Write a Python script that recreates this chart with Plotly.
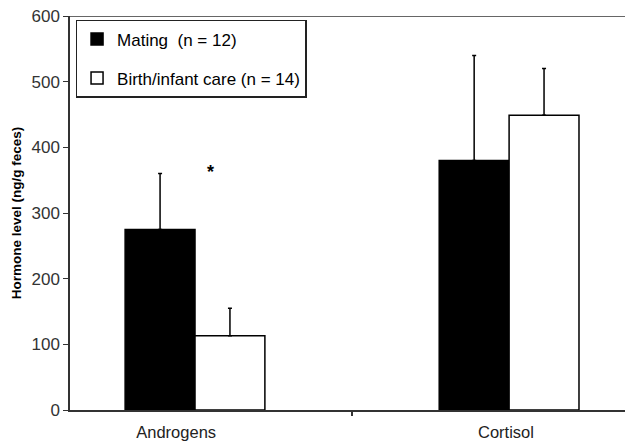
import plotly.graph_objects as go

categories = ["Androgens", "Cortisol"]
mating = [275, 380]
mating_err = [85, 160]
birth = [113, 449]
birth_err = [42, 71]
y_ticks = [0, 100, 200, 300, 400, 500, 600]
x_index = list(range(len(categories)))

FONT = "Arial, Liberation Sans, sans-serif"

fig = go.Figure()
fig.add_trace(go.Bar(
    x=x_index, y=mating, name="Mating  (n = 12)", legendgroup="a",
    marker=dict(color="black", line=dict(color="black", width=1.5)),
    error_y=dict(type="data", array=mating_err, arrayminus=[0, 0], symmetric=False,
                 color="black", thickness=1.5, width=2),
))
fig.add_trace(go.Bar(
    x=x_index, y=birth, name="Birth/infant care (n = 14)", legendgroup="b",
    marker=dict(color="white", line=dict(color="black", width=1.5)),
    error_y=dict(type="data", array=birth_err, arrayminus=[0, 0], symmetric=False,
                 color="black", thickness=1.5, width=2),
))

fig.add_annotation(x=0.05, y=362, xref="x", yref="y", text="<b>*</b>", showarrow=False,
                   font=dict(family=FONT, size=18, color="black"), yanchor="middle")

fig.add_shape(type="line", xref="paper", yref="y", x0=-0.007, x1=1, y0=600, y1=600,
              line=dict(color="#333", width=1.5))

fig.update_layout(
    width=625, height=444,
    margin=dict(l=70, r=0, t=16, b=34),
    paper_bgcolor="white", plot_bgcolor="white",
    barmode="group", bargap=0.555, bargroupgap=0,
    showlegend=True,
    legend=dict(x=0.01, y=0.99, xanchor="left", yanchor="top",
                bgcolor="white", bordercolor="#222", borderwidth=1.5,
                font=dict(family=FONT, size=17, color="black"),
                tracegroupgap=14, itemwidth=30),
    font=dict(family=FONT, color="#222"),
)
fig.update_xaxes(
    range=[-0.398, 1.369],
    tickvals=[-0.06, 0.99], ticktext=categories,
    showline=True, linecolor="#333", linewidth=1.5,
    ticks="outside", ticklen=6, tickcolor="rgba(0,0,0,0)",
    minor=dict(tickvals=[0.5], ticks="outside", ticklen=4, tickcolor="#333", tickwidth=1.5,
               showgrid=False),
    tickfont=dict(family=FONT, size=16.5, color="#222"),
    showgrid=False, zeroline=False,
)
fig.update_yaxes(
    range=[0, 600], tickvals=y_ticks,
    showline=True, linecolor="#333", linewidth=1.5,
    ticks="outside", ticklen=5, tickcolor="#333",
    tickfont=dict(family=FONT, size=17, color="#333"),
    showgrid=False, zeroline=False,
    title=dict(text="<b>Hormone level (ng/g feces)</b>", standoff=7,
               font=dict(family=FONT, size=13.5, color="black")),
)

fig.write_html("out.html")
